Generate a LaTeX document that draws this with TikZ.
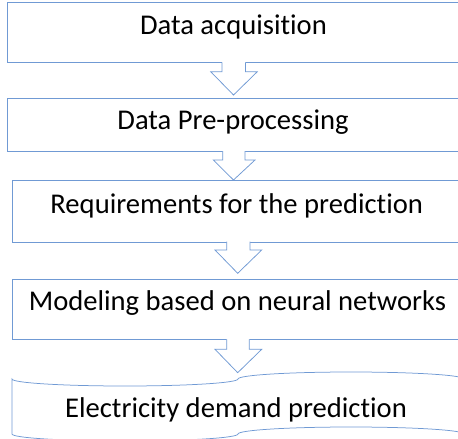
\documentclass[tikz,border=0pt]{standalone}
\usepackage{fontspec}
\setmainfont[Ligatures={NoCommon,NoRare,NoContextual}]{Carlito}
\definecolor{edge}{RGB}{112,154,212}
\newcommand\blkarrow[8]{%
  \fill[white] (#1,#3-1.2) -- (#1,#4) -- (#5,#4) -- (#7,#8) -- (#6,#4) -- (#2,#4) -- (#2,#3-1.2) -- cycle;
  \draw[arrowline] (#1,#3) -- (#1,#4) -- (#5,#4) -- (#7,#8) -- (#6,#4) -- (#2,#4) -- (#2,#3);}
\begin{document}
\begin{tikzpicture}[x=1pt,y=-1pt,
  boxline/.style={draw=edge, line width=0.75pt},
  arrowline/.style={draw=edge, line width=0.75pt, line join=miter},
  txt/.style={font=\fontsize{28.6}{30}\selectfont, anchor=base, inner sep=0pt}]
\useasboundingbox (0,0) rectangle (458,439);
\clip (0,0) rectangle (458,439);
% boxes
\node[boxline, minimum width=453.5pt, minimum height=60pt, anchor=north west, inner sep=0pt] (b1) at (6.5,2.3) {};
\node[boxline, minimum width=453.5pt, minimum height=53.5pt, anchor=north west, inner sep=0pt] (b2) at (6.5,97.5) {};
\node[boxline, minimum width=452pt, minimum height=61.7pt, anchor=north west, inner sep=0pt] (b3) at (12,180) {};
\node[boxline, minimum width=452pt, minimum height=60pt, anchor=north west, inner sep=0pt] (b4) at (12,279.3) {};
\draw[boxline] (12,379) arc[start angle=180,end angle=0,x radius=113,y radius=7]
  arc[start angle=180,end angle=360,x radius=113,y radius=7] -- (464,434)
  arc[start angle=0,end angle=-180,x radius=113,y radius=7]
  arc[start angle=0,end angle=180,x radius=113,y radius=7] -- cycle;
% block arrows
\blkarrow{222}{245.5}{62.3}{71.7}{210.7}{257.3}{233.5}{95}
\blkarrow{222.7}{245}{151}{160}{213.3}{255}{233.5}{180}
\blkarrow{226.7}{250}{241.7}{250}{215}{261.7}{237.7}{273.3}
\blkarrow{226.7}{249.3}{339.3}{349.3}{215}{261.7}{237.7}{372.7}
% texts
\node[txt] (t1) at (233.5,34.3) {Data acquisition};
\node[txt] (t2) at (233,129.3) {Data Pre-processing};
\node[txt] (t3) at (236.7,213.3) {Requirements for the prediction};
\node[txt] (t4) at (237.5,310) {Modeling based on neural networks};
\node[txt] (t5) at (236,417.3) {Electricity demand prediction};
\end{tikzpicture}
\end{document}
